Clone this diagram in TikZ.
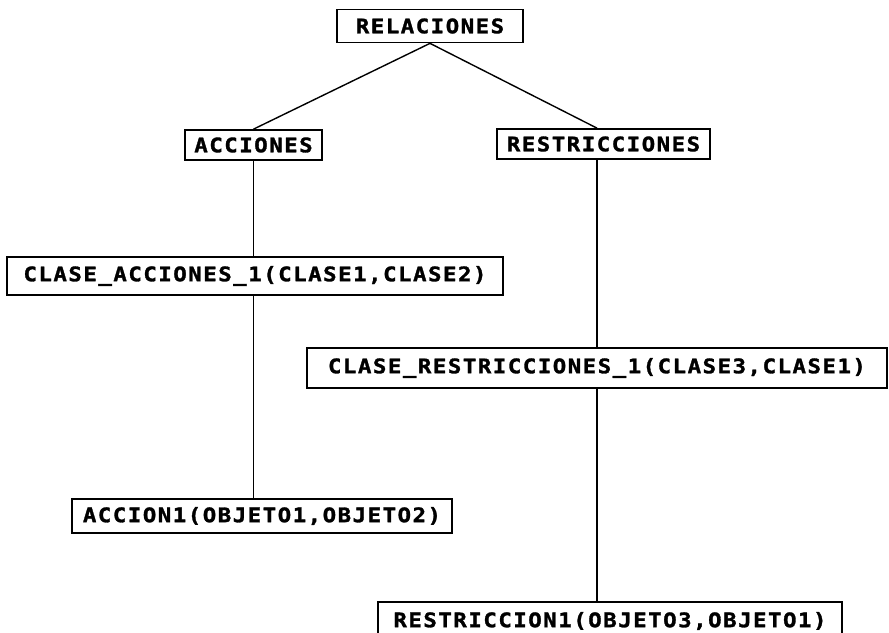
\documentclass[tikz,border=0pt]{standalone}
\usepackage{fontspec}
\newfontfamily\boxfont[FakeStretch=1.12,FakeBold=1.5,LetterSpace=7.5]{DejaVu Sans Mono}
\begin{document}
\begin{tikzpicture}[x=1pt,y=-1pt,
  box/.style={draw, line width=1.7pt, inner sep=0pt, anchor=center,
    font=\boxfont\bfseries\fontsize{20}{20}\selectfont},
  link/.style={line width=1.4pt}]
\clip (0,0) rectangle (889,632);
\fill[white] (0,0) rectangle (889,632);

% tree of relations
\node[box, minimum width=186pt, minimum height=33pt] (rel) at (430,26) {RELACIONES};
\node[box, minimum width=137pt, minimum height=30pt] (acc) at (253.5,145) {ACCIONES};
\node[box, minimum width=213pt, minimum height=30pt] (res) at (603.5,144) {RESTRICCIONES};
\node[box, minimum width=496pt, minimum height=38pt] (cacc) at (255,276) {CLASE\_ACCIONES\_1(CLASE1,CLASE2)};
\node[box, minimum width=580pt, minimum height=40pt] (cres) at (597,368) {CLASE\_RESTRICCIONES\_1(CLASE3,CLASE1)};
\node[box, minimum width=380pt, minimum height=34pt] (acc1) at (262,516) {ACCION1(OBJETO1,OBJETO2)};
\node[box, minimum width=464pt, minimum height=38pt] (res1) at (610,621) {RESTRICCION1(OBJETO3,OBJETO1)};

% connectors
\draw[link] (rel.south) -- (acc.north);
\draw[link] (rel.south) -- (res.north -| cres.north);
\draw[link] (acc.south) -- (acc.south |- cacc.north);
\draw[link] (acc.south |- cacc.south) -- (acc.south |- acc1.north);
\draw[link] (cres.north |- res.south) -- (cres.north);
\draw[link] (cres.south) -- (cres.south |- res1.north);
\end{tikzpicture}
\end{document}
